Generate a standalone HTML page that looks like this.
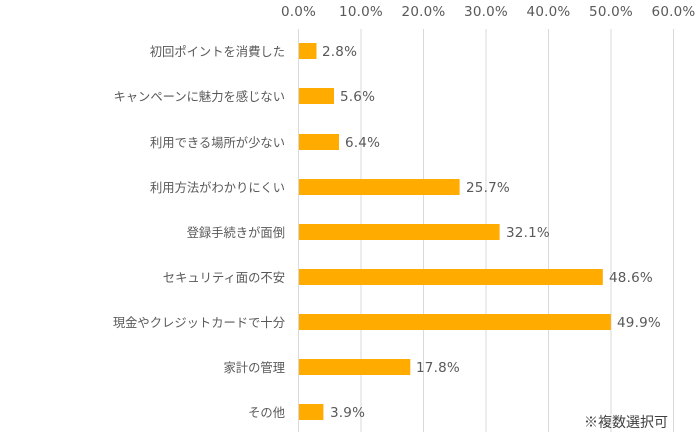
<!DOCTYPE html>
<html><head><meta charset="utf-8"><style>
body{margin:0;background:#fff;}
svg{display:block;font-family:"Liberation Sans","Noto Sans CJK JP",sans-serif;}
.n{font-family:"DejaVu Sans",sans-serif;font-size:13.5px;letter-spacing:0.2px;}
</style></head><body>
<svg width="700" height="436" xmlns="http://www.w3.org/2000/svg">
<g stroke="#d9d9d9" stroke-width="1">
<line x1="298.5" y1="29" x2="298.5" y2="432"/>
<line x1="361" y1="29" x2="361" y2="432"/>
<line x1="423.5" y1="29" x2="423.5" y2="432"/>
<line x1="486" y1="29" x2="486" y2="432"/>
<line x1="548.5" y1="29" x2="548.5" y2="432"/>
<line x1="611" y1="29" x2="611" y2="432"/>
<line x1="673.5" y1="29" x2="673.5" y2="432"/>
</g>
<g fill="#595959" class="n" text-anchor="middle">
<text x="298.5" y="16">0.0%</text><text x="361" y="16">10.0%</text><text x="423.5" y="16">20.0%</text>
<text x="486" y="16">30.0%</text><text x="548.5" y="16">40.0%</text><text x="611" y="16">50.0%</text><text x="673.5" y="16">60.0%</text>
</g>
<g fill="#ffab00">
<rect x="299" y="43" width="17.5" height="16"/>
<rect x="299" y="88" width="35" height="16"/>
<rect x="299" y="134" width="40" height="16"/>
<rect x="299" y="179" width="160.6" height="16"/>
<rect x="299" y="224" width="200.6" height="16"/>
<rect x="299" y="269" width="303.8" height="16"/>
<rect x="299" y="314" width="311.9" height="16"/>
<rect x="299" y="359" width="111.3" height="16"/>
<rect x="299" y="404" width="24.4" height="16"/>
</g>
<g fill="#595959" class="n">
<text x="322" y="56">2.8%</text>
<text x="340" y="101">5.6%</text>
<text x="345" y="147">6.4%</text>
<text x="466" y="192">25.7%</text>
<text x="506" y="237">32.1%</text>
<text x="609" y="282">48.6%</text>
<text x="617" y="327">49.9%</text>
<text x="416" y="372">17.8%</text>
<text x="330" y="417">3.9%</text>
</g>
<g fill="#595959" font-size="12.3" text-anchor="end">
<text x="285" y="56">初回ポイントを消費した</text>
<text x="285" y="101">キャンペーンに魅力を感じない</text>
<text x="285" y="147">利用できる場所が少ない</text>
<text x="285" y="192">利用方法がわかりにくい</text>
<text x="285" y="237">登録手続きが面倒</text>
<text x="285" y="282">セキュリティ面の不安</text>
<text x="285" y="327">現金やクレジットカードで十分</text>
<text x="285" y="372">家計の管理</text>
<text x="285" y="417">その他</text>
</g>
<text x="668" y="427" fill="#404040" font-size="14" text-anchor="end">※複数選択可</text>
</svg>
</body></html>
